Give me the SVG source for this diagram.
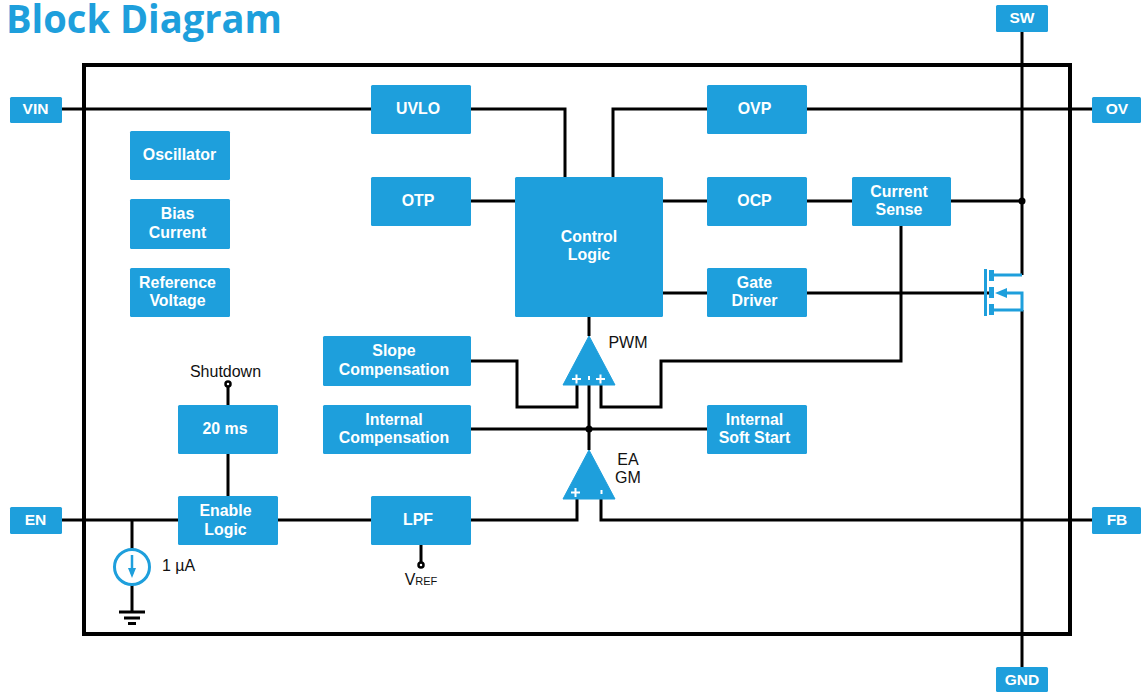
<svg xmlns="http://www.w3.org/2000/svg" width="1141" height="692" viewBox="0 0 1141 692">
<style>
.b{fill:#1e9fdc}
.t{font-family:"Liberation Sans",Arial,sans-serif;font-weight:bold;font-size:15.9px;fill:#fff;text-anchor:middle}
.p{font-family:"Liberation Sans",Arial,sans-serif;font-weight:bold;font-size:15.5px;fill:#fff;text-anchor:middle}
.l{font-family:"Liberation Sans",Arial,sans-serif;font-size:16px;fill:#111;text-anchor:middle}
.w{fill:none;stroke:#000;stroke-width:3}
.c{fill:none;stroke:#1e9fdc;stroke-width:3}
</style>
<rect x="0" y="0" width="1141" height="692" fill="#fff"/>
<text x="6" y="33" font-family="'Open Sans',sans-serif" font-weight="bold" font-size="39px" fill="#1e9fdc" textLength="276" lengthAdjust="spacingAndGlyphs">Block Diagram</text>
<rect id="frame" x="84" y="65" width="986" height="569" fill="none" stroke="#000" stroke-width="4"/>
<g id="connectors">
<path class="w" d="M62 109H371M471 109H565V177M613 177V109H707M807 109H1092"/>
<path class="w" d="M1022 32V275M1022 310V667"/>
<path class="w" d="M471 201H515M663 201H707M807 201H852M951 201H1022"/>
<path class="w" d="M663 293H707M807 293H989"/>
<path class="w" d="M901 225V361H661V407H601V385"/>
<path class="w" d="M471 361H517V407H577V385"/>
<path class="w" d="M471 429H707"/>
<path class="w" d="M589 317V336M589 385V450"/>
<path class="w" d="M62 520H179M278 520H371M471 520H577V498M601 498V520H1092"/>
<path class="w" d="M228 405V387M228 454V497"/>
<path class="w" d="M421 545V562"/>
<path class="w" d="M132 520V550M132 584V611"/>
<path class="w" d="M119 612H145M124 618H140" stroke-width="2.5"/>
<path class="w" d="M128 623.500H136" stroke-width="2.500"/>
<circle cx="1022" cy="201" r="3.500"/>
<circle cx="589" cy="429" r="3.500"/>
<circle cx="228" cy="384" r="2.500" fill="#fff" stroke="#000" stroke-width="2.500"/>
<circle cx="421" cy="565" r="2.500" fill="#fff" stroke="#000" stroke-width="2.500"/>
</g>
<g id="n-sw"><rect class="b" x="996" y="5" width="52" height="27" rx="1.500"/><text class="p" x="1022" y="23">SW</text></g>
<g id="n-gnd"><rect class="b" x="996" y="667" width="52" height="25" rx="1.500"/><text class="p" x="1022" y="685">GND</text></g>
<g id="n-vin"><rect class="b" x="10" y="97" width="52" height="26" rx="1.500"/><text class="p" x="35.500" y="114">VIN</text></g>
<g id="n-en"><rect class="b" x="10" y="507" width="52" height="27" rx="1.500"/><text class="p" x="35.500" y="525">EN</text></g>
<g id="n-ov"><rect class="b" x="1092" y="97" width="49" height="26" rx="1.500"/><text class="p" x="1117" y="114">OV</text></g>
<g id="n-fb"><rect class="b" x="1092" y="507" width="49" height="27" rx="1.500"/><text class="p" x="1117" y="525">FB</text></g>
<g id="n-uvlo"><rect class="b" x="371" y="85" width="100" height="49" rx="1.500"/><text class="t" x="418" y="114">UVLO</text></g>
<g id="n-ovp"><rect class="b" x="707" y="85" width="100" height="49" rx="1.500"/><text class="t" x="754.500" y="114">OVP</text></g>
<g id="n-osc"><rect class="b" x="130" y="131" width="100" height="49" rx="1.500"/><text class="t" x="179.500" y="160">Oscillator</text></g>
<g id="n-bias"><rect class="b" x="130" y="199" width="100" height="50" rx="1.500"/><text class="t" x="177.500" y="219">Bias</text><text class="t" x="177.500" y="238">Current</text></g>
<g id="n-ref"><rect class="b" x="130" y="268" width="100" height="49" rx="1.500"/><text class="t" x="177.500" y="288">Reference</text><text class="t" x="177.500" y="306">Voltage</text></g>
<g id="n-otp"><rect class="b" x="371" y="177" width="100" height="49" rx="1.500"/><text class="t" x="418" y="206">OTP</text></g>
<g id="n-ctrl"><rect class="b" x="515" y="177" width="148" height="140" rx="1.500"/><text class="t" x="589" y="242">Control</text><text class="t" x="589" y="260">Logic</text></g>
<g id="n-ocp"><rect class="b" x="707" y="177" width="100" height="49" rx="1.500"/><text class="t" x="754.500" y="206">OCP</text></g>
<g id="n-cs"><rect class="b" x="852" y="177" width="99" height="49" rx="1.500"/><text class="t" x="899" y="197">Current</text><text class="t" x="899" y="215">Sense</text></g>
<g id="n-gate"><rect class="b" x="707" y="268" width="100" height="49" rx="1.500"/><text class="t" x="754.500" y="288">Gate</text><text class="t" x="754.500" y="306">Driver</text></g>
<g id="n-slope"><rect class="b" x="323" y="336" width="148" height="50" rx="1.500"/><text class="t" x="394" y="356">Slope</text><text class="t" x="394" y="375">Compensation</text></g>
<g id="n-int"><rect class="b" x="323" y="405" width="148" height="49" rx="1.500"/><text class="t" x="394" y="425">Internal</text><text class="t" x="394" y="443">Compensation</text></g>
<g id="n-ss"><rect class="b" x="707" y="405" width="100" height="49" rx="1.500"/><text class="t" x="754.500" y="425">Internal</text><text class="t" x="754.500" y="443">Soft Start</text></g>
<g id="n-20"><rect class="b" x="178" y="405" width="100" height="49" rx="1.500"/><text class="t" x="225" y="434">20 ms</text></g>
<g id="n-enl"><rect class="b" x="178" y="496" width="100" height="49" rx="1.500"/><text class="t" x="225.500" y="516">Enable</text><text class="t" x="225.500" y="535">Logic</text></g>
<g id="n-lpf"><rect class="b" x="371" y="496" width="100" height="49" rx="1.500"/><text class="t" x="418" y="525">LPF</text></g>
<g id="n-pwm"><path class="b" d="M589 336L615 385H563Z" stroke="#1e9fdc" stroke-width="1" stroke-linejoin="round"/>
<path d="M572 379H581M576.500 374.500V383.500M596 379H605M600.500 374.500V383.500M589 376V380" stroke="#fff" stroke-width="2" fill="none"/>
<text class="l" x="628" y="348">PWM</text></g>
<g id="n-ea"><path class="b" d="M589 450L615 499H563Z" stroke="#1e9fdc" stroke-width="1" stroke-linejoin="round"/>
<path d="M571 492.500H580M575.500 488V497M601.500 490V494" stroke="#fff" stroke-width="2" fill="none"/>
<text class="l" x="628" y="465">EA</text><text class="l" x="628" y="483">GM</text></g>
<g id="n-fet">
<path class="c" d="M985.500 269V316"/>
<rect class="b" x="989" y="270" width="5" height="11"/><rect class="b" x="989" y="287" width="5" height="11"/><rect class="b" x="989" y="304" width="5" height="11"/>
<path class="c" d="M994 275H1022M1000 293H1022V310H994"/>
<path class="b" d="M995 293L1007 288V298Z"/>
</g>
<g id="n-isrc"><circle cx="132" cy="567" r="17.500" fill="#fff" stroke="#1e9fdc" stroke-width="3"/>
<path d="M132 555V574" stroke="#1e9fdc" stroke-width="2.500"/><path class="b" d="M132 578L128 568H136Z"/>
<text class="l" x="178.500" y="571">1 µA</text></g>
<text class="l" x="225.500" y="377">Shutdown</text>
<text class="l" x="421" y="585">V<tspan font-size="11px">REF</tspan></text>
</svg>
